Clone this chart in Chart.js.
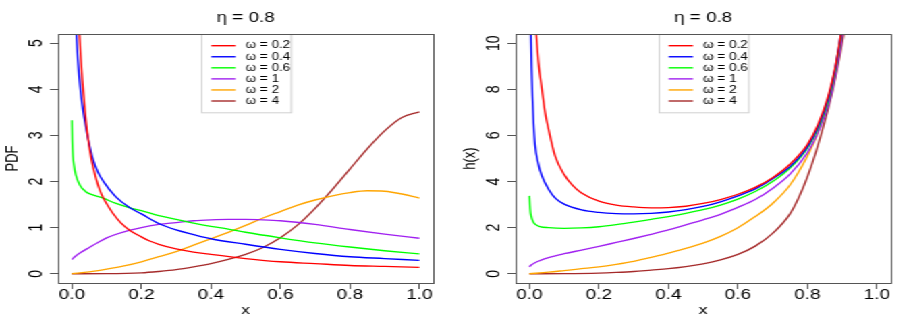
<!DOCTYPE html>
<html>
<head>
<meta charset="utf-8">
<script src="https://cdn.jsdelivr.net/npm/chart.js@4.4.1/dist/chart.umd.min.js"></script>
<style>
  html, body { margin: 0; padding: 0; background: #fff; overflow: hidden; }
  /* the reference is an R figure stretched sideways, so draw narrow and widen */
  #wrap { width: 678px; height: 327px; display: flex; transform: scaleX(1.3496); transform-origin: 0 0; }
  .panel { position: relative; width: 339px; height: 327px; }
</style>
</head>
<body>
<div id="wrap">
  <div class="panel"><canvas id="pdfChart"></canvas></div>
  <div class="panel"><canvas id="hazChart"></canvas></div>
</div>
<script>
// ---- values ----
const panelTitle  = 'η = 0.8';
const omegaLabels = ['ω = 0.2', 'ω = 0.4', 'ω = 0.6', 'ω = 1', 'ω = 2', 'ω = 4'];
const curveColors = ['#FF0000', '#0000FF', '#00FF00', '#A020F0', '#FFA500', '#A52A2A'];
const xTicks   = [0, 0.2, 0.4, 0.6, 0.8, 1.0];
const pdfTicks = [0, 1, 2, 3, 4, 5];
const hazTicks = [0, 2, 4, 6, 8, 10];

// left panel: PDF, [x, y]
const pdfW02 = [[0.021,5.3],[0.025,4.75],[0.03,4.2],[0.038,3.5],[0.046,2.95],[0.056,2.48],[0.07,2.05],[0.08,1.82],[0.09,1.65],[0.1,1.52],[0.12,1.29],[0.14,1.11],[0.167,0.94],[0.2,0.8],[0.224,0.71],[0.25,0.64],[0.3,0.54],[0.35,0.47],[0.4,0.42],[0.5,0.33],[0.6,0.26],[0.7,0.22],[0.8,0.18],[0.9,0.16],[1.0,0.14]];
const pdfW04 = [[0.012,5.3],[0.017,4.65],[0.025,3.95],[0.035,3.4],[0.046,2.95],[0.06,2.5],[0.075,2.2],[0.09,2.01],[0.125,1.68],[0.167,1.43],[0.2,1.3],[0.25,1.09],[0.3,0.95],[0.35,0.85],[0.4,0.76],[0.5,0.64],[0.6,0.53],[0.7,0.44],[0.8,0.37],[0.9,0.33],[1.0,0.29]];
const pdfW06 = [[0,3.33],[0.001,2.9],[0.003,2.55],[0.006,2.35],[0.011,2.15],[0.023,1.92],[0.04,1.78],[0.06,1.71],[0.09,1.64],[0.125,1.53],[0.167,1.43],[0.2,1.37],[0.25,1.26],[0.3,1.18],[0.35,1.1],[0.4,1.03],[0.45,0.97],[0.5,0.9],[0.6,0.78],[0.7,0.67],[0.8,0.58],[0.9,0.5],[1.0,0.43]];
const pdfW1  = [[0,0.31],[0.01,0.38],[0.025,0.46],[0.05,0.57],[0.075,0.68],[0.1,0.78],[0.15,0.91],[0.2,1.0],[0.25,1.07],[0.3,1.11],[0.35,1.15],[0.4,1.17],[0.45,1.18],[0.5,1.18],[0.55,1.17],[0.6,1.15],[0.7,1.07],[0.8,0.96],[0.9,0.86],[1.0,0.77]];
const pdfW2  = [[0,0],[0.05,0.04],[0.1,0.1],[0.15,0.17],[0.2,0.26],[0.25,0.37],[0.3,0.48],[0.35,0.62],[0.4,0.76],[0.45,0.9],[0.5,1.05],[0.55,1.21],[0.6,1.35],[0.65,1.49],[0.7,1.6],[0.75,1.69],[0.8,1.76],[0.85,1.8],[0.9,1.79],[0.95,1.73],[1.0,1.64]];
const pdfW4  = [[0,0],[0.1,0.002],[0.2,0.02],[0.25,0.05],[0.3,0.09],[0.35,0.15],[0.4,0.22],[0.45,0.31],[0.5,0.42],[0.55,0.57],[0.6,0.78],[0.65,1.06],[0.7,1.42],[0.75,1.83],[0.8,2.27],[0.85,2.71],[0.9,3.1],[0.95,3.39],[1.0,3.51]];

// right panel: h(x), [x, y]
const hazW02 = [[0.019,10.5],[0.026,9.17],[0.036,8.0],[0.045,7.0],[0.055,6.27],[0.074,5.1],[0.1,4.3],[0.125,3.82],[0.15,3.5],[0.2,3.15],[0.25,2.98],[0.3,2.9],[0.35,2.86],[0.4,2.87],[0.45,2.93],[0.5,3.05],[0.55,3.22],[0.6,3.45],[0.65,3.75],[0.7,4.17],[0.75,4.75],[0.8,5.6],[0.83,6.45],[0.86,7.7],[0.88,8.95],[0.9,10.7]];
const hazW04 = [[0.004,10.5],[0.006,9.0],[0.0085,7.7],[0.012,6.5],[0.016,5.6],[0.025,4.8],[0.036,4.24],[0.055,3.67],[0.075,3.27],[0.1,3.02],[0.15,2.77],[0.2,2.66],[0.25,2.61],[0.3,2.6],[0.35,2.62],[0.4,2.68],[0.45,2.78],[0.5,2.92],[0.55,3.12],[0.6,3.38],[0.65,3.68],[0.7,4.12],[0.75,4.65],[0.8,5.5],[0.83,6.35],[0.86,7.6],[0.88,8.9],[0.9,10.7]];
const hazW06 = [[0,3.38],[0.002,2.8],[0.005,2.5],[0.01,2.28],[0.016,2.15],[0.03,2.05],[0.055,2.0],[0.1,1.97],[0.15,1.99],[0.2,2.04],[0.25,2.13],[0.3,2.24],[0.35,2.36],[0.4,2.48],[0.45,2.62],[0.5,2.78],[0.55,2.98],[0.6,3.24],[0.65,3.57],[0.7,4.0],[0.75,4.58],[0.8,5.45],[0.83,6.28],[0.86,7.5],[0.88,8.8],[0.9,10.6]];
const hazW1  = [[0,0.3],[0.005,0.38],[0.016,0.48],[0.03,0.57],[0.055,0.7],[0.1,0.87],[0.15,1.03],[0.2,1.19],[0.25,1.36],[0.3,1.53],[0.35,1.71],[0.4,1.9],[0.45,2.12],[0.5,2.34],[0.55,2.58],[0.6,2.88],[0.65,3.22],[0.7,3.7],[0.75,4.32],[0.8,5.25],[0.83,6.1],[0.86,7.3],[0.88,8.55],[0.9,10.3],[0.91,11.4]];
const hazW2  = [[0,0],[0.055,0.07],[0.1,0.14],[0.15,0.22],[0.2,0.3],[0.25,0.41],[0.3,0.54],[0.35,0.71],[0.4,0.9],[0.45,1.1],[0.5,1.33],[0.55,1.62],[0.6,2.0],[0.65,2.48],[0.7,3.05],[0.75,3.85],[0.8,5.1],[0.83,6.1],[0.86,7.5],[0.88,8.75],[0.9,10.5],[0.91,11.5]];
const hazW4  = [[0,0],[0.1,0.005],[0.2,0.03],[0.25,0.06],[0.3,0.1],[0.35,0.16],[0.4,0.22],[0.45,0.31],[0.5,0.43],[0.55,0.6],[0.6,0.84],[0.65,1.2],[0.7,1.75],[0.75,2.6],[0.775,3.3],[0.8,4.2],[0.825,5.3],[0.85,6.6],[0.875,8.1],[0.9,10.0],[0.92,11.8]];

const FONT = '"Liberation Sans", Arial, Helvetica, sans-serif';
const AXIS = '#555';

// R-style legend box at the top of the plot, then the plot frame
const rFrame = {
  id: 'rFrame',
  afterDraw(chart) {
    const { ctx, chartArea: a } = chart;
    const w = 66.4, h = 78.3;
    const left = Math.round((a.left + a.right) / 2 - w / 2) + 0.5;
    const top = a.top + 0.5;
    ctx.save();
    ctx.fillStyle = '#fff';
    ctx.fillRect(left, top, w, h);
    ctx.strokeStyle = '#d0d0d0';
    ctx.lineWidth = 1;
    ctx.strokeRect(left, top, w, h);
    ctx.font = '10px ' + FONT;
    ctx.textBaseline = 'middle';
    chart.data.datasets.forEach((ds, i) => {
      const y = a.top + 11.7 + i * 11.06;
      ctx.strokeStyle = ds.borderColor;
      ctx.lineWidth = 1.4;
      ctx.beginPath();
      ctx.moveTo(left + 7, y);
      ctx.lineTo(left + 25, y);
      ctx.stroke();
      ctx.fillStyle = '#000';
      ctx.fillText(ds.label, left + 32.5, y);
    });
    ctx.strokeStyle = AXIS;
    ctx.lineWidth = 1;
    ctx.strokeRect(a.left + 0.5, a.top + 0.5, a.right - a.left, a.bottom - a.top);
    ctx.restore();
  }
};

function makeChart(id, series, yMin, yMax, yTicks, yTitle, yTickPad) {
  const datasets = series.map((pts, i) => ({
    label: omegaLabels[i],
    data: pts.map(([x, y]) => ({ x, y })),
    borderColor: curveColors[i],
    borderWidth: 1.35,
    pointRadius: 0,
    fill: false,
    cubicInterpolationMode: 'monotone'
  }));

  return new Chart(document.getElementById(id), {
    type: 'line',
    data: { datasets },
    plugins: [rFrame],
    options: {
      responsive: true,
      maintainAspectRatio: false,
      animation: false,
      events: [],
      layout: { padding: { left: 0, right: 18, top: 0, bottom: 0 } },
      plugins: {
        legend: { display: false },
        tooltip: { enabled: false },
        title: {
          display: true, text: panelTitle, fullSize: false, color: '#000',
          font: { family: FONT, size: 14, weight: 'normal' },
          padding: { top: 10, bottom: 7.2 }
        }
      },
      scales: {
        x: {
          type: 'linear', min: -0.04, max: 1.04,
          afterBuildTicks: s => { s.ticks = xTicks.map(v => ({ value: v })); },
          afterFit: s => { s.height = 44; },
          border: { display: false },
          grid: { drawOnChartArea: false, drawTicks: true, tickLength: 6, color: AXIS },
          ticks: {
            color: '#000', padding: -1, maxRotation: 0, autoSkip: false,
            font: { family: FONT, size: 14, lineHeight: 1 },
            callback: v => v.toFixed(1)
          },
          title: {
            display: true, text: 'x', color: '#000',
            font: { family: FONT, size: 13 }, padding: { top: 0, bottom: 8.7 }
          }
        },
        y: {
          type: 'linear', min: yMin, max: yMax,
          afterBuildTicks: s => { s.ticks = yTicks.map(v => ({ value: v })); },
          afterFit: s => { s.width = 43; },
          border: { display: false },
          grid: { drawOnChartArea: false, drawTicks: true, tickLength: 6, color: AXIS },
          ticks: {
            color: '#000', padding: yTickPad, minRotation: 90, maxRotation: 90,
            crossAlign: 'center', autoSkip: false,
            font: { family: FONT, size: 14 },
            callback: v => String(v)
          },
          title: {
            display: true, text: yTitle, color: '#000',
            font: { family: FONT, size: 13 }, padding: { top: 2, bottom: 0 }
          }
        }
      }
    }
  });
}

makeChart('pdfChart', [pdfW02, pdfW04, pdfW06, pdfW1, pdfW2, pdfW4], -0.2, 5.2, pdfTicks, 'PDF', 5.9);
makeChart('hazChart', [hazW02, hazW04, hazW06, hazW1, hazW2, hazW4], -0.4, 10.4, hazTicks, 'h(x)', 2);
</script>
</body>
</html>
